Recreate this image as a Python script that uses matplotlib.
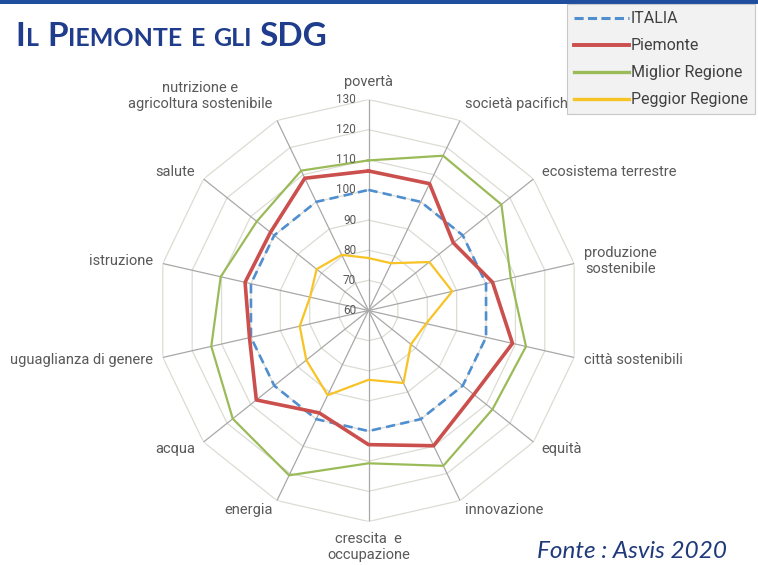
import numpy as np
import matplotlib.pyplot as plt
from matplotlib.lines import Line2D
from matplotlib.patches import Rectangle

# SDG goals, clockwise from the top
categories = [
    "povertà", "società pacifiche", "ecosistema terrestre", "produzione\nsostenibile",
    "città sostenibili", "equità", "innovazione", "crescita  e\noccupazione",
    "energia", "acqua", "uguaglianza di genere", "istruzione", "salute",
    "nutrizione e\nagricoltura sostenibile",
]
italia = [100, 100, 100, 100, 100, 100, 100, 100, 100, 100, 100, 100, 100, 100]
piemonte = [106.3, 106.7, 96.0, 102.2, 109.0, 104.7, 109.8, 104.5, 97.7, 107.6, 100.5, 102.0, 101.6, 108.7]
miglior = [109.8, 117.0, 116.4, 108.4, 113.6, 112.6, 117.2, 110.7, 120.7, 117.6, 113.5, 110.3, 107.4, 111.5]
peggior = [77.4, 77.4, 85.8, 88.5, 79.6, 78.0, 86.7, 83.0, 91.2, 86.4, 83.4, 79.9, 82.0, 80.5]
r_ticks = [60, 70, 80, 90, 100, 110, 120, 130]

GRAY_TXT = "#595959"
DARK_BLUE = "#1F3D8C"
plt.rcParams["font.family"] = ["Roboto", "DejaVu Sans"]

fig = plt.figure(figsize=(7.58, 5.65), dpi=100)
fig.patch.set_facecolor("white")

# top band
fig.add_artist(Rectangle((0, 1 - 4 / 565), 1, 4 / 565, transform=fig.transFigure,
                         color="#1F4E9E", lw=0))

ax = fig.add_axes([0.2078, 0.077, 0.5567, 0.7469], projection="polar")
ax.set_theta_zero_location("N")
ax.set_theta_direction(-1)
ax.axis("off")
ax.set_ylim(60, 130)

n = len(categories)
angles = np.linspace(0, 2 * np.pi, n, endpoint=False)
closed = np.append(angles, angles[0])

# polygon grid
for v in r_ticks[1:]:
    ax.plot(closed, [v] * (n + 1), color="#DCDCD4", lw=0.9, zorder=1)
for a in angles:
    ax.plot([a, a], [60, 130], color="#A8A8A8", lw=0.9, zorder=1)

def loop(vals):
    return vals + vals[:1]

ax.plot(closed, loop(italia), color="#4F8FD0", lw=1.9, ls=(0, (3.5, 2)), zorder=3)
ax.plot(closed, loop(piemonte), color="#CB4F4C", lw=2.6, zorder=4)
ax.plot(closed, loop(miglior), color="#9BBB59", lw=1.6, zorder=5)
ax.plot(closed, loop(peggior), color="#F7C325", lw=1.6, zorder=6)

# radial tick labels
for v in r_ticks:
    ax.annotate(str(v), xy=(0, v), xytext=(-9, 0), textcoords="offset points",
                ha="right", va="center", fontsize=8.5, color=GRAY_TXT, zorder=7)

# category labels
for a, lab in zip(angles, categories):
    s, c = np.sin(a), np.cos(a)
    ha = "left" if s > 0.1 else ("right" if s < -0.1 else "center")
    va = "bottom" if c > 0.85 else ("top" if c < -0.95 else "center")
    ax.annotate(lab, xy=(a, 130), xytext=(7.5 * s, 7.5 * c), textcoords="offset points",
                ha=ha, va=va, fontsize=10.5, color=GRAY_TXT, multialignment="center",
                annotation_clip=False)

# legend
handles = [
    Line2D([], [], color="#4F8FD0", lw=2.2, ls=(0, (3, 1.4))),
    Line2D([], [], color="#CB4F4C", lw=2.8),
    Line2D([], [], color="#9BBB59", lw=2.4),
    Line2D([], [], color="#F7C325", lw=2.4),
]
leg = fig.legend(handles, ["ITALIA", "Piemonte", "Miglior Regione", "Peggior Regione"],
                 loc="upper left", bbox_to_anchor=(567 / 758, 1 - 4 / 565),
                 fontsize=11.5, handlelength=3.45, handletextpad=0.1, labelspacing=0.75,
                 borderpad=0.45, fancybox=False, framealpha=1, borderaxespad=0)
leg.get_frame().set_facecolor("#F2F2F2")
leg.get_frame().set_edgecolor("#C8C8C8")
leg.get_frame().set_linewidth(0.8)
for t in leg.get_texts():
    t.set_color("#404040")

# small-caps title
renderer = fig.canvas.get_renderer()
x = 15
pieces = [("I", 24), ("L", 18), (" ", 0), ("P", 24), ("IEMONTE", 18), (" ", 0),
          ("E", 18), (" ", 0), ("GLI", 18), (" ", 0), ("SDG", 24)]
for txt, size in pieces:
    if txt == " ":
        x += 7
        continue
    t = fig.text(x / 758, 1 - 46 / 565, txt, fontsize=size, fontweight="bold",
                 family=["Lato", "DejaVu Sans"], color=DARK_BLUE, ha="left", va="baseline")
    x = t.get_window_extent(renderer).x1 + 1

fig.text(727 / 758, 1 - 551 / 565, "Fonte : Asvis 2020", fontsize=17.5, style="italic",
         family=["Lato", "DejaVu Sans"], color="#1F3A7A", ha="right", va="center")

fig.savefig("out.png", dpi=100)
